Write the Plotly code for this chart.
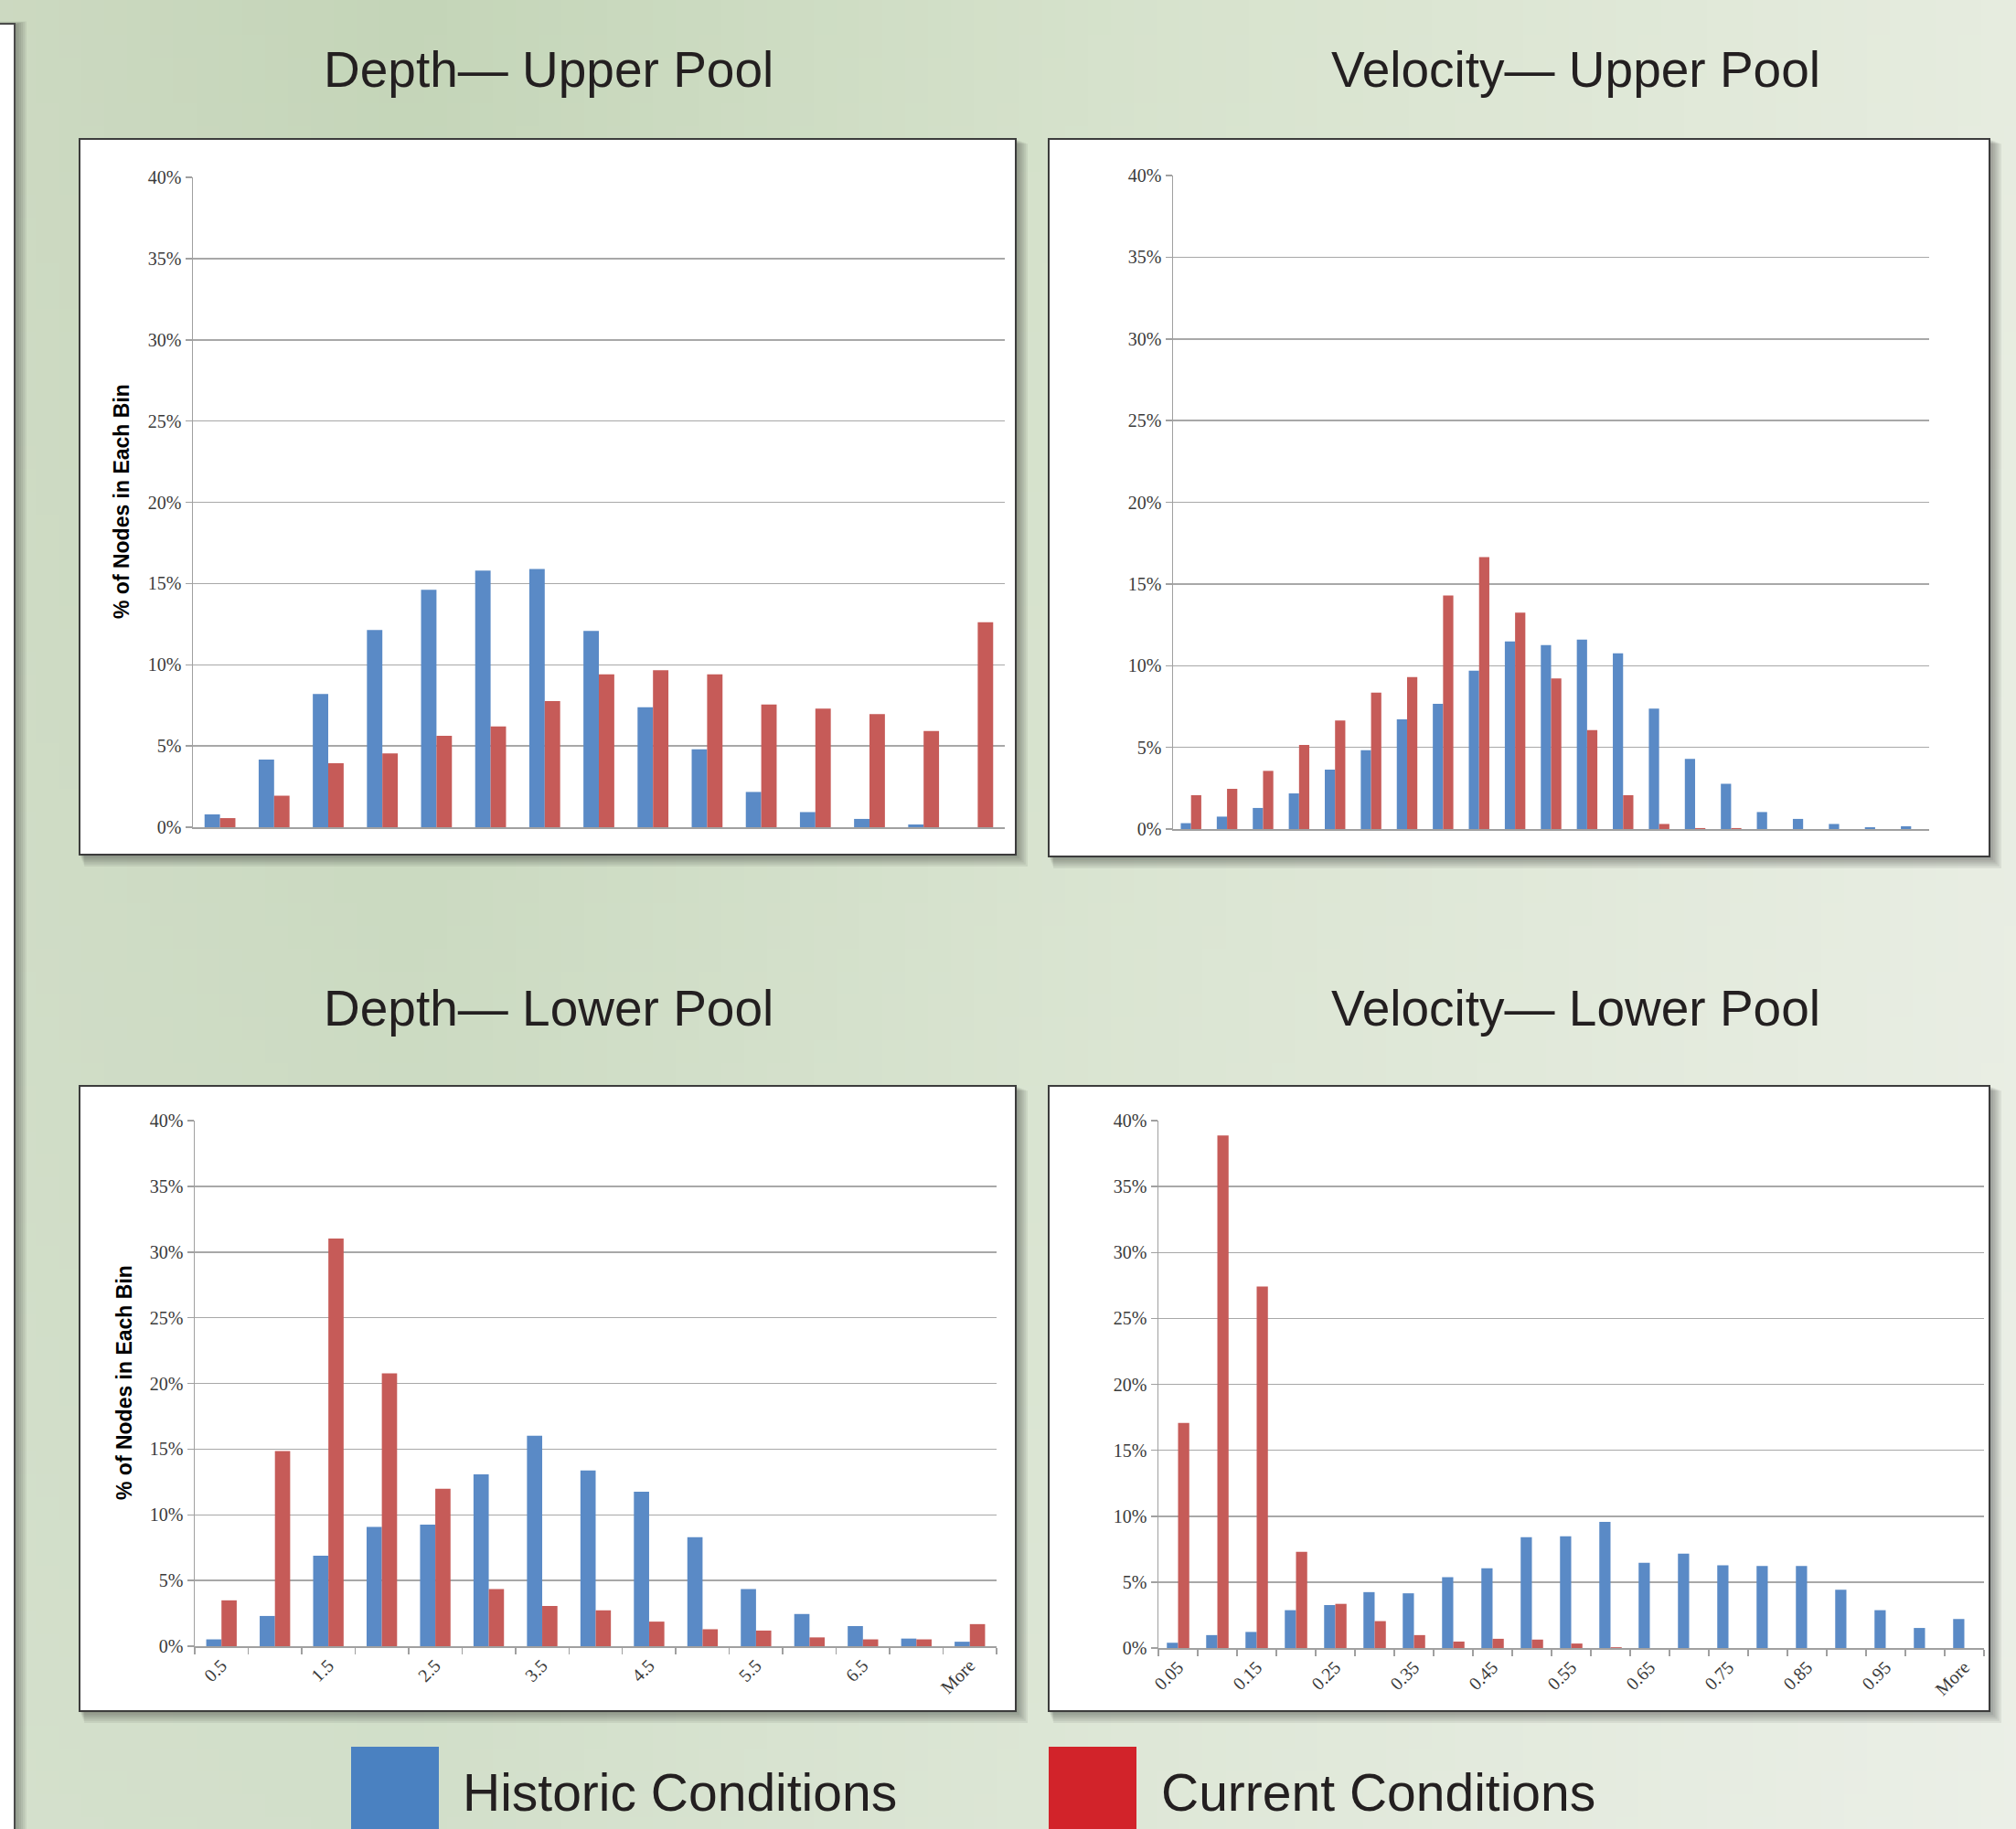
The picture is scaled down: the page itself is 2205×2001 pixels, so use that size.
import plotly.graph_objects as go
import zlib, struct, base64

W, H = 2205, 2001

# ---------------- data ----------------
depth_cats = ["0.5", "1", "1.5", "2", "2.5", "3", "3.5", "4", "4.5", "5", "5.5", "6", "6.5", "7", "More"]
depth_labels = ["0.5", "", "1.5", "", "2.5", "", "3.5", "", "4.5", "", "5.5", "", "6.5", "", "More"]
vel_cats = ["0.05", "0.1", "0.15", "0.2", "0.25", "0.3", "0.35", "0.4", "0.45", "0.5", "0.55",
            "0.6", "0.65", "0.7", "0.75", "0.8", "0.85", "0.9", "0.95", "1", "More"]
vel_labels = ["0.05", "", "0.15", "", "0.25", "", "0.35", "", "0.45", "", "0.55",
              "", "0.65", "", "0.75", "", "0.85", "", "0.95", "", "More"]

depth_upper_historic = [0.79, 4.17, 8.2, 12.14, 14.62, 15.8, 15.9, 12.08, 7.38, 4.79, 2.17, 0.93, 0.51, 0.17, 0]
depth_upper_current = [0.56, 1.94, 3.94, 4.54, 5.63, 6.2, 7.77, 9.41, 9.66, 9.41, 7.55, 7.3, 6.96, 5.92, 12.62]
vel_upper_historic = [0.36, 0.76, 1.29, 2.18, 3.64, 4.82, 6.72, 7.67, 9.69, 11.48, 11.26, 11.6, 10.76,
                      7.37, 4.29, 2.77, 1.04, 0.62, 0.31, 0.11, 0.17]
vel_upper_current = [2.07, 2.46, 3.56, 5.15, 6.64, 8.35, 9.3, 14.29, 16.64, 13.25, 9.22, 6.05, 2.07,
                     0.31, 0.06, 0.06, 0, 0, 0, 0, 0]
depth_lower_historic = [0.52, 2.3, 6.89, 9.07, 9.25, 13.08, 16.02, 13.38, 11.76, 8.3, 4.35, 2.45, 1.53, 0.58, 0.34]
depth_lower_current = [3.49, 14.85, 31.03, 20.77, 11.98, 4.35, 3.06, 2.73, 1.87, 1.29, 1.19, 0.67, 0.52, 0.52, 1.68]
vel_lower_historic = [0.4, 0.98, 1.22, 2.87, 3.26, 4.24, 4.15, 5.37, 6.04, 8.41, 8.48, 9.57, 6.46,
                      7.16, 6.28, 6.22, 6.22, 4.42, 2.87, 1.52, 2.2]
vel_lower_current = [17.07, 38.87, 27.41, 7.29, 3.35, 2.04, 0.98, 0.49, 0.7, 0.64, 0.34, 0.06, 0,
                     0, 0, 0, 0, 0, 0, 0, 0]

titles = ["Depth\u2014 Upper Pool", "Velocity\u2014 Upper Pool", "Depth\u2014 Lower Pool", "Velocity\u2014 Lower Pool"]
y_title = "% of Nodes in Each Bin"
series_names = ["Historic Conditions", "Current Conditions"]

# ---------------- style ----------------
BAR_BLUE = "#5A8AC6"
BAR_RED = "#C65B58"
LEG_BLUE = "#4A81C1"
LEG_RED = "#D2232A"
GRID = "#A8A8A8"
TXT = "#231F20"


def px_x(x):
    return x / W


def px_y(y):
    return 1 - y / H


# background gradient image (PNG built by hand)
def lerp(a, b, t):
    return tuple(a[i] + (b[i] - a[i]) * t for i in range(3))


def row_color(stops, u):
    for i in range(len(stops) - 1):
        u0, c0 = stops[i]
        u1, c1 = stops[i + 1]
        if u <= u1:
            return lerp(c0, c1, (u - u0) / (u1 - u0))
    return stops[-1][1]


top_stops = [(0.0, (204, 217, 193)), (0.2, (196, 213, 184)), (0.55, (214, 226, 204)), (1.0, (230, 236, 223))]
bot_stops = [(0.0, (212, 224, 204)), (0.2, (210, 223, 202)), (0.55, (222, 231, 215)), (1.0, (235, 239, 231))]

iw, ih = 88, 80
raw = b""
for j in range(ih):
    v = j / (ih - 1)
    raw += b"\x00"
    for i in range(iw):
        u = i / (iw - 1)
        c = lerp(row_color(top_stops, u), row_color(bot_stops, u), v)
        raw += bytes(int(round(k)) for k in c)


def chunk(tag, data):
    return struct.pack(">I", len(data)) + tag + data + struct.pack(">I", zlib.crc32(tag + data) & 0xffffffff)


png = b"\x89PNG\r\n\x1a\n" + chunk(b"IHDR", struct.pack(">IIBBBBB", iw, ih, 8, 2, 0, 0, 0)) + \
      chunk(b"IDAT", zlib.compress(raw, 9)) + chunk(b"IEND", b"")
bg_uri = "data:image/png;base64," + base64.b64encode(png).decode()

# ---------------- figure ----------------
fig = go.Figure()

panels = [
    # (cats, labels, historic, current, plot area px (x0,x1,y0,y1), panel px, show x labels)
    (depth_cats, depth_labels, depth_upper_historic, depth_upper_current, (211, 1099, 194, 905), (87, 1111, 152, 935), False),
    (vel_cats, vel_labels, vel_upper_historic, vel_upper_current, (1283, 2110, 192, 907), (1147, 2176, 152, 937), False),
    (depth_cats, depth_labels, depth_lower_historic, depth_lower_current, (213, 1090, 1226, 1801), (87, 1111, 1188, 1872), True),
    (vel_cats, vel_labels, vel_lower_historic, vel_lower_current, (1267, 2170, 1226, 1803), (1147, 2176, 1188, 1872), True),
]

shapes = []
annotations = []

# left page strip
for k in range(6):
    shapes.append(dict(type="rect", xref="paper", yref="paper", layer="below",
                       x0=px_x(-10), x1=px_x(17 + 2 + k * 2), y0=px_y(2001 + 10), y1=px_y(26 - k * 0.5),
                       fillcolor="rgba(40,40,40,0.07)", line=dict(width=0)))
shapes.append(dict(type="rect", xref="paper", yref="paper", layer="below",
                   x0=px_x(-5), x1=px_x(16), y0=px_y(2010), y1=px_y(26),
                   fillcolor="white", line=dict(color="#4A4A4A", width=2)))

for idx, (cats, labels, hist, curr, area, panel, showx) in enumerate(panels):
    n = idx + 1
    xa = "x" if n == 1 else f"x{n}"
    ya = "y" if n == 1 else f"y{n}"
    px0, px1, py0, py1 = panel
    # shadow
    for k in range(6):
        off = 2 + k * 2.2
        shapes.append(dict(type="rect", xref="paper", yref="paper", layer="below",
                           x0=px_x(px0 + off * 0.4), x1=px_x(px1 + off), y0=px_y(py1 + off), y1=px_y(py0 + off * 0.4),
                           fillcolor="rgba(30,30,30,0.075)", line=dict(width=0)))
    shapes.append(dict(type="rect", xref="paper", yref="paper", layer="below",
                       x0=px_x(px0), x1=px_x(px1), y0=px_y(py1), y1=px_y(py0),
                       fillcolor="white", line=dict(color="#3C3C3C", width=2)))

    fig.add_trace(go.Bar(x=cats, y=hist, name=series_names[0], marker=dict(color=BAR_BLUE, line=dict(width=0)),
                         xaxis=xa, yaxis=ya, showlegend=False))
    fig.add_trace(go.Bar(x=cats, y=curr, name=series_names[1], marker=dict(color=BAR_RED, line=dict(width=0)),
                         xaxis=xa, yaxis=ya, showlegend=False))

    ax0, ax1, ay0, ay1 = area
    xkey = "xaxis" if n == 1 else f"xaxis{n}"
    ykey = "yaxis" if n == 1 else f"yaxis{n}"
    xdict = dict(domain=[px_x(ax0), px_x(ax1)], anchor=ya, type="category",
                 categoryorder="array", categoryarray=cats, automargin=False,
                 showline=True, linecolor="#A0A0A0", linewidth=1.5, showgrid=False, zeroline=False,
                 fixedrange=True)
    if showx:
        xdict.update(tickmode="array", tickvals=cats, ticktext=labels, tickson="boundaries",
                     ticks="outside", ticklen=7, tickwidth=1.5, tickcolor="#A0A0A0", tickangle=-45,
                     showticklabels=True,
                     tickfont=dict(family="Liberation Serif", size=20, color="#3A3A3A"))
    else:
        xdict.update(ticks="", showticklabels=False)
    ydict = dict(domain=[px_y(ay1), px_y(ay0)], anchor=xa, range=[0, 40], dtick=5, tick0=0,
                 ticksuffix="%", showgrid=True, gridcolor=GRID, gridwidth=1.5, zeroline=False,
                 showline=True, linecolor="#A0A0A0", linewidth=1.5, automargin=False,
                 ticks="outside", ticklen=7, tickwidth=1.5, tickcolor="#A0A0A0",
                 tickfont=dict(family="Liberation Serif", size=20, color="#3A3A3A"), fixedrange=True)
    fig.update_layout(**{xkey: xdict, ykey: ydict})

# titles
title_pos = [(600, 76), (1723, 76), (600, 1103), (1723, 1103)]
for t, (tx, ty) in zip(titles, title_pos):
    annotations.append(dict(text=t, x=px_x(tx), y=px_y(ty), xref="paper", yref="paper",
                            xanchor="center", yanchor="middle", showarrow=False,
                            font=dict(family="Liberation Sans", size=55, color=TXT)))

# y axis titles
for (tx, ty) in [(133, 549), (136, 1513)]:
    annotations.append(dict(text="<b>" + y_title + "</b>", x=px_x(tx), y=px_y(ty), xref="paper", yref="paper",
                            xanchor="center", yanchor="middle", showarrow=False, textangle=-90,
                            font=dict(family="Liberation Sans", size=23, color="black")))

# legend
legend_items = [(series_names[0], LEG_BLUE, 384, 480, 504), (series_names[1], LEG_RED, 1147, 1243, 1268)]
for name, col, sx0, sx1, tx in legend_items:
    shapes.append(dict(type="rect", xref="paper", yref="paper", layer="below",
                       x0=px_x(sx0), x1=px_x(sx1), y0=px_y(2010), y1=px_y(1911),
                       fillcolor=col, line=dict(width=0)))
    annotations.append(dict(text=name, x=px_x(tx), y=px_y(1961), xref="paper", yref="paper",
                            xanchor="left", yanchor="middle", showarrow=False,
                            font=dict(family="Liberation Sans", size=57, color=TXT)))

fig.update_layout(
    width=W, height=H,
    margin=dict(l=0, r=0, t=0, b=0, pad=0),
    paper_bgcolor="#D5E0CC",
    plot_bgcolor="rgba(0,0,0,0)",
    barmode="group", bargap=0.43, bargroupgap=0,
    showlegend=False,
    shapes=shapes,
    annotations=annotations,
    images=[dict(source=bg_uri, xref="paper", yref="paper", x=0, y=1, sizex=1, sizey=1,
                 sizing="stretch", layer="below", xanchor="left", yanchor="top")],
)

fig.write_html("out.html",
               config={"displayModeBar": False, "staticPlot": True},
               post_script="document.body.style.margin='0';document.body.style.padding='0';"
                           "document.body.style.overflow='hidden';")
